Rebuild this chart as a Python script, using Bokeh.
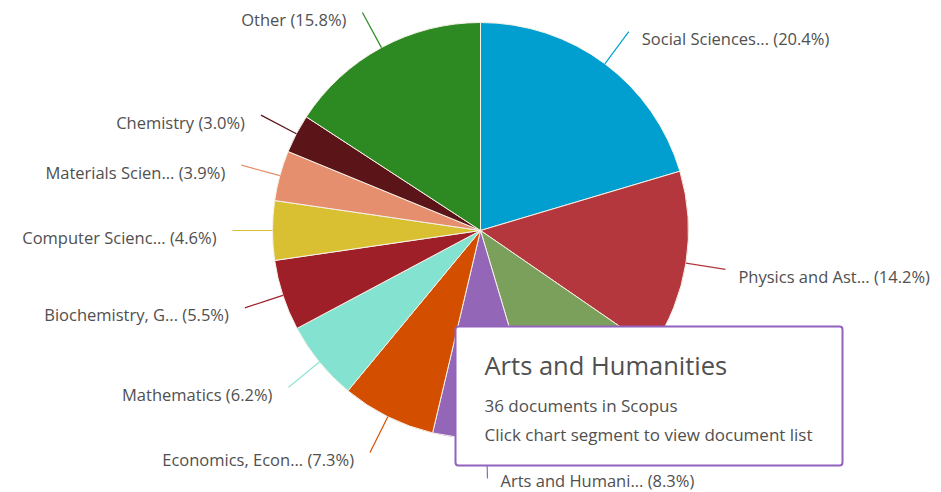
import math
from bokeh.plotting import figure
from bokeh.models import Range1d, BoxAnnotation, Label, ColumnDataSource
from bokeh.core.properties import value
from bokeh.embed import file_html
from bokeh.resources import INLINE

# ---- data ----
categories = ["Social Sciences...", "Physics and Ast...", "Engineering", "Arts and Humani...",
              "Economics, Econ...", "Mathematics", "Biochemistry, G...", "Computer Scienc...",
              "Materials Scien...", "Chemistry", "Other"]
percents = [20.4, 14.2, 10.8, 8.3, 7.3, 6.2, 5.5, 4.6, 3.9, 3.0, 15.8]
colors = ["#009fcf", "#b5373e", "#7ba05b", "#9466b8", "#d44e00", "#84e3d0",
          "#9e1f27", "#d8c032", "#e68f6f", "#5b1518", "#2d8a22"]

tooltip_title = "Arts and Humanities"
tooltip_lines = ["36 documents in Scopus", "Click chart segment to view document list"]

W, H = 941, 492
CX, CY, R = 480, 262, 208
FONT = "Open Sans"
TXT = "#505050"

p = figure(width=W, height=H, x_range=Range1d(0, W), y_range=Range1d(0, H),
           output_backend="svg", toolbar_location=None, min_border=0)
p.axis.visible = False
p.grid.visible = False
p.outline_line_color = None
p.background_fill_color = "white"

total = sum(percents)
starts, ends, mids = [], [], []
cum = 0.0
for v in percents:
    a0 = math.pi / 2 - 2 * math.pi * (cum + v) / total
    a1 = math.pi / 2 - 2 * math.pi * cum / total
    starts.append(a0)
    ends.append(a1)
    mids.append((a0 + a1) / 2)
    cum += v

src = ColumnDataSource(dict(start=starts, end=ends, color=colors))
p.wedge(x=CX, y=CY, radius=R, start_angle="start", end_angle="end", fill_color="color",
        line_color="#f6f1e8", line_width=1, source=src)

# connectors and labels
lx0, ly0, lx1, ly1, tx, ty, labels, align, lcol = [], [], [], [], [], [], [], [], []
for name, v, c, m in zip(categories, percents, colors, mids):
    x0 = CX + R * math.cos(m)
    y0 = CY + R * math.sin(m)
    x1 = CX + (R + 40) * math.cos(m)
    y1 = CY + (R + 40) * math.sin(m)
    lx0.append(x0); ly0.append(y0); lx1.append(x1); ly1.append(y1); lcol.append(c)
    right = math.cos(m) >= -0.02
    tx.append(x1 + (13 if right else -16))
    ty.append(max(y1 - 7, 12))
    align.append("left" if right else "right")
    labels.append(f"{name} ({v}%)")

p.segment(x0=lx0, y0=ly0, x1=lx1, y1=ly1, line_color=lcol, line_width=1.2)
lsrc = ColumnDataSource(dict(x=tx, y=ty, text=labels, align=align))
p.text(x="x", y="y", text="text", text_align="align", text_baseline="middle",
       text_font=value(FONT), text_font_size="16.5px", text_color=TXT, source=lsrc)

# tooltip
box = BoxAnnotation(left=455, right=842, bottom=27, top=166, fill_color="white", fill_alpha=1.0,
                    line_color="#9262bd", line_alpha=1.0, line_width=2, border_radius=3)
p.add_layout(box)
p.add_layout(Label(x=484, y=128, text=tooltip_title, text_font=FONT, text_font_size="25.5px",
                   text_color=TXT, text_baseline="middle"))
p.add_layout(Label(x=484, y=87, text=tooltip_lines[0], text_font=FONT, text_font_size="17px",
                   text_color=TXT, text_baseline="middle"))
p.add_layout(Label(x=484, y=58, text=tooltip_lines[1], text_font=FONT, text_font_size="17px",
                   text_color=TXT, text_baseline="middle"))

open("out.html", "w").write(file_html(p, INLINE))
